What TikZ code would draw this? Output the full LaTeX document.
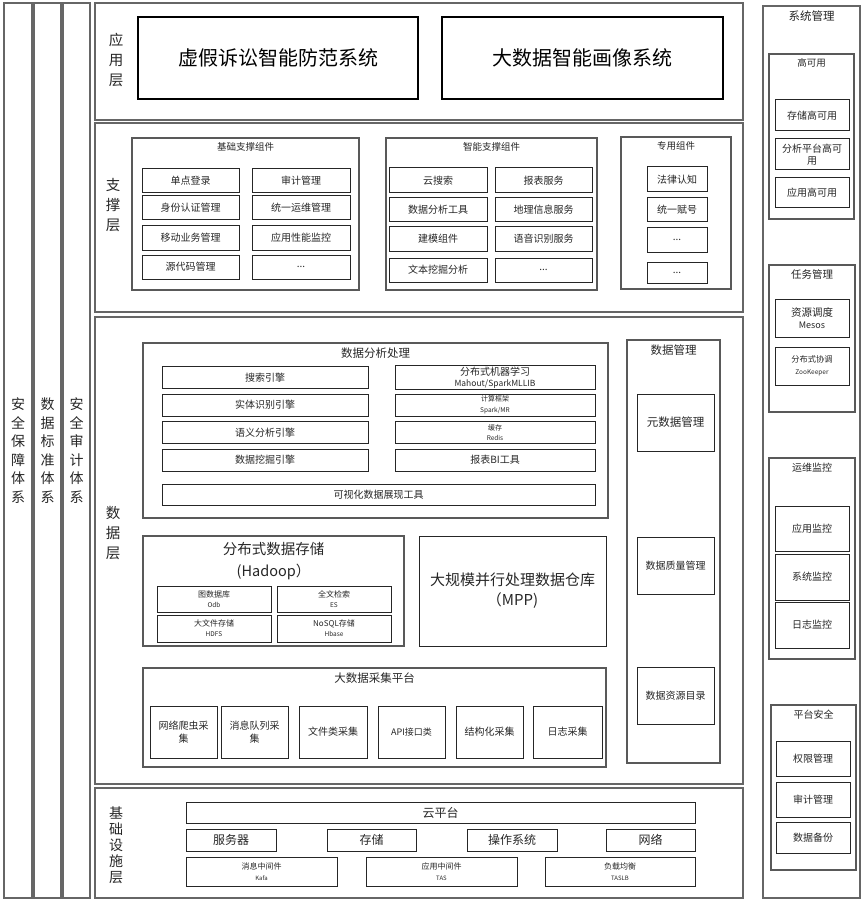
\documentclass[tikz,border=0pt]{standalone}
\usepackage{fontspec}
\setmainfont{Noto Sans CJK SC}
\usepackage{tikz}
\usetikzlibrary{positioning}
\tikzset{
    wh/.style 2 args={minimum width=#1pt, minimum height=#2pt},
    sidecol/.style={rectangle, draw=black!60, line width=1.2pt, align=center, text=black!85, font=\fontsize{14}{18.5}\selectfont},
    layer/.style={rectangle, draw=black!60, line width=1.5pt},
    vlabel/.style={align=center, text=black!85, font=\fontsize{14.5}{20}\selectfont},
    sysbox/.style={rectangle, draw=black, line width=2.2pt, font=\fontsize{20}{24}\selectfont},
    group/.style={rectangle, draw=black!65, line width=1.1pt},
    title/.style={text=black!85, font=\fontsize{9.5}{12}\selectfont},
    bigtitle/.style={text=black!85, font=\fontsize{11.5}{14}\selectfont},
    item/.style={rectangle, draw=black!85, line width=1pt, inner sep=1pt, align=center, text=black!85, font=\fontsize{10}{12}\selectfont}
}

\begin{document}
\begin{tikzpicture}[x=1pt, y=-1pt]
\useasboundingbox (0,0) rectangle (866,909);

% Side columns
\node[sidecol, wh={28}{895}] (guard) at (18,450.5) {安\\全\\保\\障\\体\\系};
\node[sidecol, wh={27}{895}] (standard) at (47.5,450.5) {数\\据\\标\\准\\体\\系};
\node[sidecol, wh={27}{895}] (auditsys) at (76.5,450.5) {安\\全\\审\\计\\体\\系};

% Application layer
\node[layer, wh={648}{117}] (applayer) at (419,61.5) {};
\node[vlabel] (applabel) at (116,60) {应\\用\\层};
\node[sysbox, wh={280}{82}] (fraud) at (278,58) {虚假诉讼智能防范系统};
\node[sysbox, wh={281}{82}] (portrait) at (582.5,58) {大数据智能画像系统};

% Support layer
\node[layer, wh={648}{189}] (suplayer) at (419,217.5) {};
\node[vlabel] (suplabel) at (113,205) {支\\撑\\层};

\node[group, wh={227}{152}] (basic) at (245.5,214) {};
\node[title, below=2pt of basic.north] (basictitle) {基础支撑组件};
\node[item, wh={97}{24}] (sso) at (190.5,180.5) {单点登录};
\node[item, wh={98}{24}] (audit) at (301,180.5) {审计管理};
\node[item, wh={97}{24}] (auth) at (190.5,208) {身份认证管理};
\node[item, wh={98}{24}] (ops) at (301,208) {统一运维管理};
\node[item, wh={97}{24}] (mobile) at (190.5,238) {移动业务管理};
\node[item, wh={98}{24}] (apm) at (301,238) {应用性能监控};
\node[item, wh={97}{24}] (code) at (190.5,267) {源代码管理};
\node[item, wh={98}{24}] (basicmore) at (301,267) {...};

\node[group, wh={211}{152}] (smart) at (491.5,214) {};
\node[title, below=2pt of smart.north] (smarttitle) {智能支撑组件};
\node[item, wh={98}{25}] (cloudsearch) at (438,180.5) {云搜索};
\node[item, wh={97}{25}] (report) at (543.5,180.5) {报表服务};
\node[item, wh={98}{24}] (analysis) at (438,210) {数据分析工具};
\node[item, wh={97}{24}] (geo) at (543.5,210) {地理信息服务};
\node[item, wh={98}{24}] (model) at (438,239) {建模组件};
\node[item, wh={97}{24}] (speech) at (543.5,239) {语音识别服务};
\node[item, wh={98}{24}] (textmine) at (438,270) {文本挖掘分析};
\node[item, wh={97}{24}] (smartmore) at (543.5,270) {...};

\node[group, wh={110}{152}] (special) at (676,213) {};
\node[title, below=2pt of special.north] (specialtitle) {专用组件};
\node[item, wh={60}{25}] (law) at (677,179.5) {法律认知};
\node[item, wh={60}{24}] (numbering) at (677,210) {统一赋号};
\node[item, wh={60}{24}] (specialmore) at (677,240) {...};
\node[item, wh={60}{21}] (speciallast) at (677,272.5) {...};

% Data layer
\node[layer, wh={648}{467}] (datalayer) at (419,550.5) {};
\node[vlabel] (datalabel) at (113,533) {数\\据\\层};

\node[group, wh={465}{175}] (process) at (375.5,430.5) {};
\node[bigtitle, below=2pt of process.north] (processtitle) {数据分析处理};
\node[item, wh={206}{22}] (search) at (265,377.5) {搜索引擎};
\node[item, wh={206}{22}] (entity) at (265,405) {实体识别引擎};
\node[item, wh={206}{22}] (semantic) at (265,432.5) {语义分析引擎};
\node[item, wh={206}{22}] (mining) at (265,460) {数据挖掘引擎};
\node[item, wh={200}{22}, font=\fontsize{8.5}{11}\selectfont] (mllib) at (495,377.5) {{\fontsize{10}{10}\selectfont 分布式机器学习}\\Mahout/SparkMLLIB};
\node[item, wh={200}{22}, font=\fontsize{6.5}{10.5}\selectfont] (compute) at (495,405) {{\fontsize{7}{8}\selectfont 计算框架}\\Spark/MR};
\node[item, wh={200}{22}, font=\fontsize{6.5}{10.5}\selectfont] (cache) at (495,432.5) {{\fontsize{7}{8}\selectfont 缓存}\\Redis};
\node[item, wh={200}{22}] (bitool) at (495,460) {报表BI工具};
\node[item, wh={433}{21}] (visual) at (378.5,494.5) {可视化数据展现工具};

\node[group, wh={261}{110}] (storage) at (273.5,591) {};
\node[align=center, text=black!85, font=\fontsize{14.5}{22}\selectfont] (storagetitle) at (273.5,561) {分布式数据存储\\(Hadoop）};
\node[item, wh={114}{26}, font=\fontsize{6.5}{10}\selectfont] (graphdb) at (214,599) {{\fontsize{8}{8}\selectfont 图数据库}\\Odb};
\node[item, wh={114}{26}, font=\fontsize{6.5}{10}\selectfont] (fulltext) at (334,599) {{\fontsize{8}{8}\selectfont 全文检索}\\ES};
\node[item, wh={114}{27}, font=\fontsize{6.5}{10}\selectfont] (hdfs) at (214,628.5) {{\fontsize{8}{8}\selectfont 大文件存储}\\HDFS};
\node[item, wh={114}{27}, font=\fontsize{6.5}{10}\selectfont] (nosql) at (334,628.5) {{\fontsize{8}{8}\selectfont NoSQL存储}\\Hbase};

\node[item, wh={187}{110}, font=\fontsize{15}{20}\selectfont] (mpp) at (512.5,591) {大规模并行处理数据仓库\\（MPP)};

\node[group, wh={463}{99}] (collect) at (374.5,717.5) {};
\node[bigtitle, below=2pt of collect.north] (collecttitle) {大数据采集平台};
\node[item, wh={67}{52}, font=\fontsize{10}{13}\selectfont] (crawler) at (183.5,732) {网络爬虫采\\集};
\node[item, wh={67}{52}, font=\fontsize{10}{13}\selectfont] (mqcollect) at (254.5,732) {消息队列采\\集};
\node[item, wh={68}{52}] (filecollect) at (333,732) {文件类采集};
\node[item, wh={67}{52}, font=\fontsize{9}{12}\selectfont] (api) at (411.5,732) {API接口类};
\node[item, wh={67}{52}] (structured) at (489.5,732) {结构化采集};
\node[item, wh={69}{52}] (logcollect) at (567.5,732) {日志采集};

\node[group, wh={93}{423}] (datamgmt) at (673.5,551.5) {};
\node[bigtitle, below=2pt of datamgmt.north] (datamgmttitle) {数据管理};
\node[item, wh={77}{57}, font=\fontsize{11.5}{14}\selectfont] (metadata) at (675.5,422.5) {元数据管理};
\node[item, wh={77}{57}] (quality) at (675.5,565.5) {数据质量管理};
\node[item, wh={77}{57}] (catalog) at (675.5,695.5) {数据资源目录};

% Infrastructure layer
\node[layer, wh={648}{110}] (infralayer) at (419,843) {};
\node[vlabel, font=\fontsize{14}{16}\selectfont] (infralabel) at (116,845) {基\\础\\设\\施\\层};
\node[item, wh={509}{21}, font=\fontsize{12}{14}\selectfont] (cloud) at (440.5,812.5) {云平台};
\node[item, wh={90}{22}, font=\fontsize{12}{14}\selectfont] (server) at (231,840) {服务器};
\node[item, wh={89}{22}, font=\fontsize{12}{14}\selectfont] (store) at (371.5,840) {存储};
\node[item, wh={90}{22}, font=\fontsize{12}{14}\selectfont] (os) at (512,840) {操作系统};
\node[item, wh={89}{22}, font=\fontsize{12}{14}\selectfont] (network) at (650.5,840) {网络};
\node[item, wh={151}{29}, font=\fontsize{6}{10.5}\selectfont] (msgmw) at (261.5,871.5) {{\fontsize{8}{8}\selectfont 消息中间件}\\Kafa};
\node[item, wh={151}{29}, font=\fontsize{6}{10.5}\selectfont] (appmw) at (441.5,871.5) {{\fontsize{8}{8}\selectfont 应用中间件}\\TAS};
\node[item, wh={150}{29}, font=\fontsize{6}{10.5}\selectfont] (balance) at (620,871.5) {{\fontsize{8}{8}\selectfont 负载均衡}\\TASLB};

% System management column
\node[layer, wh={97}{892}] (sysmgmt) at (811.5,452) {};
\node[bigtitle, below=2pt of sysmgmt.north] (sysmgmttitle) {系统管理};

\node[group, wh={85}{165}] (ha) at (811.5,136.5) {};
\node[title, below=2pt of ha.north] (hatitle) {高可用};
\node[item, wh={74}{31}] (storeha) at (812,115.5) {存储高可用};
\node[item, wh={74}{31}, font=\fontsize{10}{12.5}\selectfont] (platformha) at (812,154.5) {分析平台高可\\用};
\node[item, wh={74}{30}] (appha) at (812,193) {应用高可用};

\node[group, wh={86}{147}] (task) at (812,338.5) {};
\node[bigtitle, font=\fontsize{10.5}{13}\selectfont, below=2pt of task.north] (tasktitle) {任务管理};
\node[item, wh={74}{38}, font=\fontsize{9}{12}\selectfont] (mesos) at (812,318) {{\fontsize{10.5}{12}\selectfont 资源调度}\\Mesos};
\node[item, wh={74}{38}, font=\fontsize{6.5}{12.5}\selectfont] (zookeeper) at (812,366) {{\fontsize{8.3}{9}\selectfont 分布式协调}\\ZooKeeper};

\node[group, wh={86}{201}] (monitor) at (812,558.5) {};
\node[bigtitle, font=\fontsize{10}{13}\selectfont, below=2pt of monitor.north] (monitortitle) {运维监控};
\node[item, wh={74}{45}] (appmon) at (812,528.5) {应用监控};
\node[item, wh={74}{46}] (sysmon) at (812,577) {系统监控};
\node[item, wh={74}{46}] (logmon) at (812,625) {日志监控};

\node[group, wh={85}{165}] (platsec) at (813.5,787.5) {};
\node[bigtitle, font=\fontsize{10}{13}\selectfont, below=2pt of platsec.north] (platsectitle) {平台安全};
\node[item, wh={74}{35}] (permission) at (813,758.5) {权限管理};
\node[item, wh={74}{35}] (secaudit) at (813,799.5) {审计管理};
\node[item, wh={74}{31}] (backup) at (813,837.5) {数据备份};

\end{tikzpicture}
\end{document}
